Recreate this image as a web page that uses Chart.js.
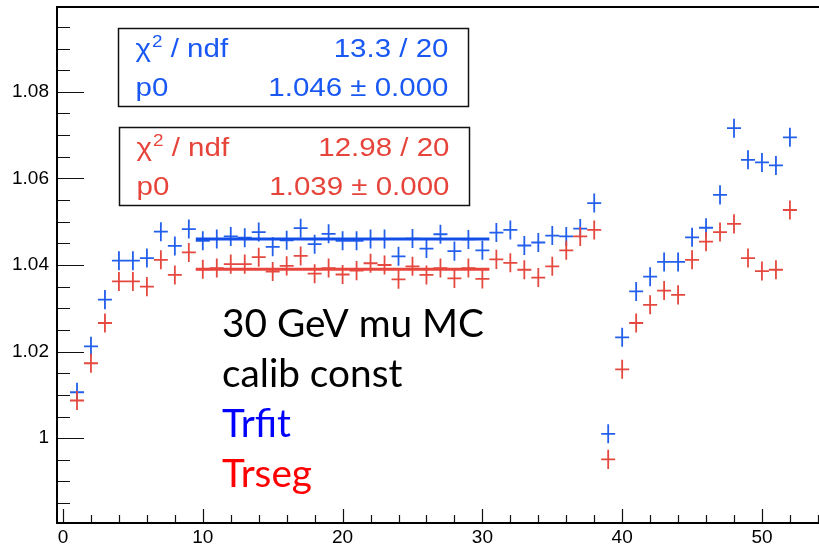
<!DOCTYPE html>
<html>
<head>
<meta charset="utf-8">
<script src="https://cdn.jsdelivr.net/npm/chart.js@4.4.1/dist/chart.umd.min.js"></script>
<style>
  html, body { margin: 0; padding: 0; background: #fff; }
</style>
</head>
<body>
<canvas id="grafico" width="819" height="547"></canvas>
<script>
/* Dados */
const bins = [1, 2, 3, 4, 5, 6, 7, 8, 9, 10, 11, 12, 13, 14, 15, 16, 17, 18, 19, 20, 21, 22, 23, 24, 25, 26,
              27, 28, 29, 30, 31, 32, 33, 34, 35, 36, 37, 38, 39, 40, 41, 42, 43, 44, 45, 46, 47, 48, 49, 50, 51, 52];
const trfit = [1.0106, 1.0212, 1.0320, 1.0410, 1.0410, 1.0416, 1.0477, 1.0444, 1.0483, 1.0456,
               1.0460, 1.0466, 1.0463, 1.0476, 1.0442, 1.0457, 1.0485, 1.0448, 1.0472, 1.0456,
               1.0456, 1.0460, 1.0460, 1.0420, 1.0461, 1.0438, 1.0471, 1.0432, 1.0459, 1.0434,
               1.0475, 1.0481, 1.0445, 1.0452, 1.0468, 1.0466, 1.0484, 1.0543, 1.0010, 1.0233,
               1.0339, 1.0373, 1.0407, 1.0407, 1.0464, 1.0486, 1.0562, 1.0716, 1.0643, 1.0637,
               1.0630, 1.0695];
const trseg = [1.0087, 1.0173, 1.0266, 1.0362, 1.0362, 1.0350, 1.0412, 1.0377, 1.0429, 1.0390,
               1.0393, 1.0402, 1.0402, 1.0418, 1.0385, 1.0398, 1.0421, 1.0380, 1.0393, 1.0378,
               1.0387, 1.0404, 1.0400, 1.0367, 1.0397, 1.0377, 1.0393, 1.0369, 1.0393, 1.0368,
               1.0413, 1.0405, 1.0389, 1.0371, 1.0397, 1.0434, 1.0466, 1.0481, 0.9951, 1.0159,
               1.0266, 1.0308, 1.0341, 1.0331, 1.0412, 1.0454, 1.0476, 1.0495, 1.0416, 1.0386,
               1.0389, 1.0527];
const yErr = 0.0022;
const fitTrfit = 1.046;
const fitTrseg = 1.039;
const fitRange = [9.5, 30.5];
const xTicks = [0, 10, 20, 30, 40, 50];
const yTicks = [1, 1.02, 1.04, 1.06, 1.08];
const statsTrfit = ['13.3 / 20', '1.046 \u00b1 0.000'];
const statsTrseg = ['12.98 / 20', '1.039 \u00b1 0.000'];
const notes = ['30 GeV mu MC', 'calib const', 'Trfit', 'Trseg'];

const AZUL = 'rgb(35, 95, 235)';
const VERMELHO = 'rgb(228, 72, 62)';

/* Moldura e marcas dos eixos (por dentro, estilo ROOT) */
const moldura = {
  id: 'moldura',
  afterDraw(chart) {
    const { ctx, chartArea: a, scales: { x, y } } = chart;
    ctx.save();
    ctx.strokeStyle = '#111';
    ctx.lineWidth = 1.2;
    ctx.beginPath();
    for (let k = Math.ceil(y.min * 200); k <= y.max * 200; k++) {
      const py = Math.round(y.getPixelForValue(k / 200)) + 0.5;
      const len = k % 4 === 0 ? 27 : 13;
      ctx.moveTo(a.left, py);
      ctx.lineTo(a.left + len, py);
    }
    for (let k = Math.ceil(x.min / 2); k <= x.max / 2; k++) {
      const px = Math.round(x.getPixelForValue(k * 2)) + 0.5;
      const len = k % 5 === 0 ? 14 : 8;
      ctx.moveTo(px, a.bottom);
      ctx.lineTo(px, a.bottom - len);
    }
    ctx.stroke();
    ctx.lineWidth = 2;
    ctx.strokeStyle = '#000';
    ctx.beginPath();
    ctx.moveTo(a.right + 2, a.top);
    ctx.lineTo(a.left, a.top);
    ctx.lineTo(a.left, a.bottom);
    ctx.lineTo(a.right + 2, a.bottom);
    ctx.stroke();
    ctx.restore();
  }
};

/* Cruzes de erro: +-0.5 bin na horizontal, +-yErr na vertical */
const cruzes = {
  id: 'cruzes',
  beforeDatasetsDraw(chart) {
    const { ctx, scales: { x, y } } = chart;
    chart.data.datasets.forEach(ds => {
      if (!ds.cruz) return;
      ctx.save();
      ctx.strokeStyle = ds.borderColor;
      ctx.lineWidth = 1.8;
      ctx.beginPath();
      ds.data.forEach(p => {
        const px = x.getPixelForValue(p.x);
        const py = y.getPixelForValue(p.y);
        ctx.moveTo(x.getPixelForValue(p.x - 0.5), py);
        ctx.lineTo(x.getPixelForValue(p.x + 0.5), py);
        ctx.moveTo(px, y.getPixelForValue(p.y - yErr));
        ctx.lineTo(px, y.getPixelForValue(p.y + yErr));
      });
      ctx.stroke();
      ctx.restore();
    });
  }
};

function textoEsticado(ctx, str, x, y, align, sx) {
  ctx.save();
  ctx.translate(x, y);
  ctx.scale(sx, 1);
  ctx.textAlign = align;
  ctx.fillText(str, 0, 0);
  ctx.restore();
}

function caixaStats(ctx, box, cor, valores) {
  const sx = 1.18;
  ctx.save();
  ctx.strokeStyle = '#111';
  ctx.lineWidth = 1.5;
  ctx.strokeRect(box.x, box.y, box.w, box.h);
  ctx.fillStyle = cor;
  ctx.textBaseline = 'alphabetic';
  const l1 = box.y + 28.5, l2 = box.y + 67.5;
  let cx = box.x + 17;
  ctx.font = '25px "Liberation Sans"';
  textoEsticado(ctx, '\u03c7', cx, l1, 'left', sx);
  cx += ctx.measureText('\u03c7').width * sx + 1;
  ctx.font = '16px "Liberation Sans"';
  textoEsticado(ctx, '2', cx, l1 - 10, 'left', sx);
  cx += ctx.measureText('2').width * sx;
  ctx.font = '25px "Liberation Sans"';
  textoEsticado(ctx, ' / ndf', cx, l1, 'left', sx);
  textoEsticado(ctx, 'p0', box.x + 17, l2, 'left', sx);
  textoEsticado(ctx, valores[0], box.x + box.w - 20, l1, 'right', sx);
  textoEsticado(ctx, valores[1], box.x + box.w - 20, l2, 'right', sx);
  ctx.restore();
}

const textos = {
  id: 'textos',
  afterDraw(chart) {
    const ctx = chart.ctx;
    caixaStats(ctx, { x: 118.5, y: 28.5, w: 350, h: 78 }, 'rgb(25, 88, 242)', statsTrfit);
    caixaStats(ctx, { x: 119.5, y: 127.5, w: 350, h: 78 }, 'rgb(230, 68, 58)', statsTrseg);

    ctx.save();
    ctx.font = '38px Lato';
    const sx = 262 / ctx.measureText(notes[0]).width;
    const cores = ['#000', '#000', '#0000ff', '#ff0000'];
    notes.forEach((t, i) => {
      ctx.fillStyle = cores[i];
      textoEsticado(ctx, t, 222, 337 + i * 50, 'left', sx);
    });
    ctx.restore();
  }
};

const ctx = document.getElementById('grafico').getContext('2d');
new Chart(ctx, {
  type: 'scatter',
  data: {
    datasets: [
      {
        type: 'line', label: 'fit Trseg',
        data: fitRange.map(v => ({ x: v, y: fitTrseg })),
        borderColor: 'rgb(232, 70, 60)', borderWidth: 3, pointRadius: 0
      },
      {
        type: 'line', label: 'fit Trfit',
        data: fitRange.map(v => ({ x: v, y: fitTrfit })),
        borderColor: 'rgb(18, 78, 232)', borderWidth: 3, pointRadius: 0
      },
      {
        label: 'Trfit', cruz: true,
        data: bins.map((b, i) => ({ x: b, y: trfit[i] })),
        borderColor: AZUL, pointRadius: 0
      },
      {
        label: 'Trseg', cruz: true,
        data: bins.map((b, i) => ({ x: b, y: trseg[i] })),
        borderColor: VERMELHO, pointRadius: 0
      }
    ]
  },
  options: {
    responsive: false,
    animation: false,
    layout: { padding: { top: 7, right: 0, bottom: 0, left: 0 } },
    plugins: { legend: { display: false }, tooltip: { enabled: false } },
    scales: {
      x: {
        type: 'linear', min: -0.43, max: 54.08,
        afterFit: s => { s.height = 24; s.paddingLeft = 0; s.paddingRight = 0; },
        afterBuildTicks: s => { s.ticks = xTicks.map(v => ({ value: v })); },
        grid: { display: false, drawTicks: false },
        border: { display: false },
        ticks: {
          padding: 3, color: '#000', maxRotation: 0, autoSkip: false,
          font: { family: 'Liberation Sans', size: 19 },
          callback: v => String(v)
        }
      },
      y: {
        type: 'linear', min: 0.9804, max: 1.0996,
        afterFit: s => { s.width = 57; s.paddingTop = 0; s.paddingBottom = 0; },
        afterBuildTicks: s => { s.ticks = yTicks.map(v => ({ value: v })); },
        grid: { display: false, drawTicks: false },
        border: { display: false },
        ticks: {
          padding: 8, color: '#000',
          font: { family: 'Liberation Sans', size: 19 },
          callback: v => String(v)
        }
      }
    }
  },
  plugins: [cruzes, moldura, textos]
});
</script>
</body>
</html>
